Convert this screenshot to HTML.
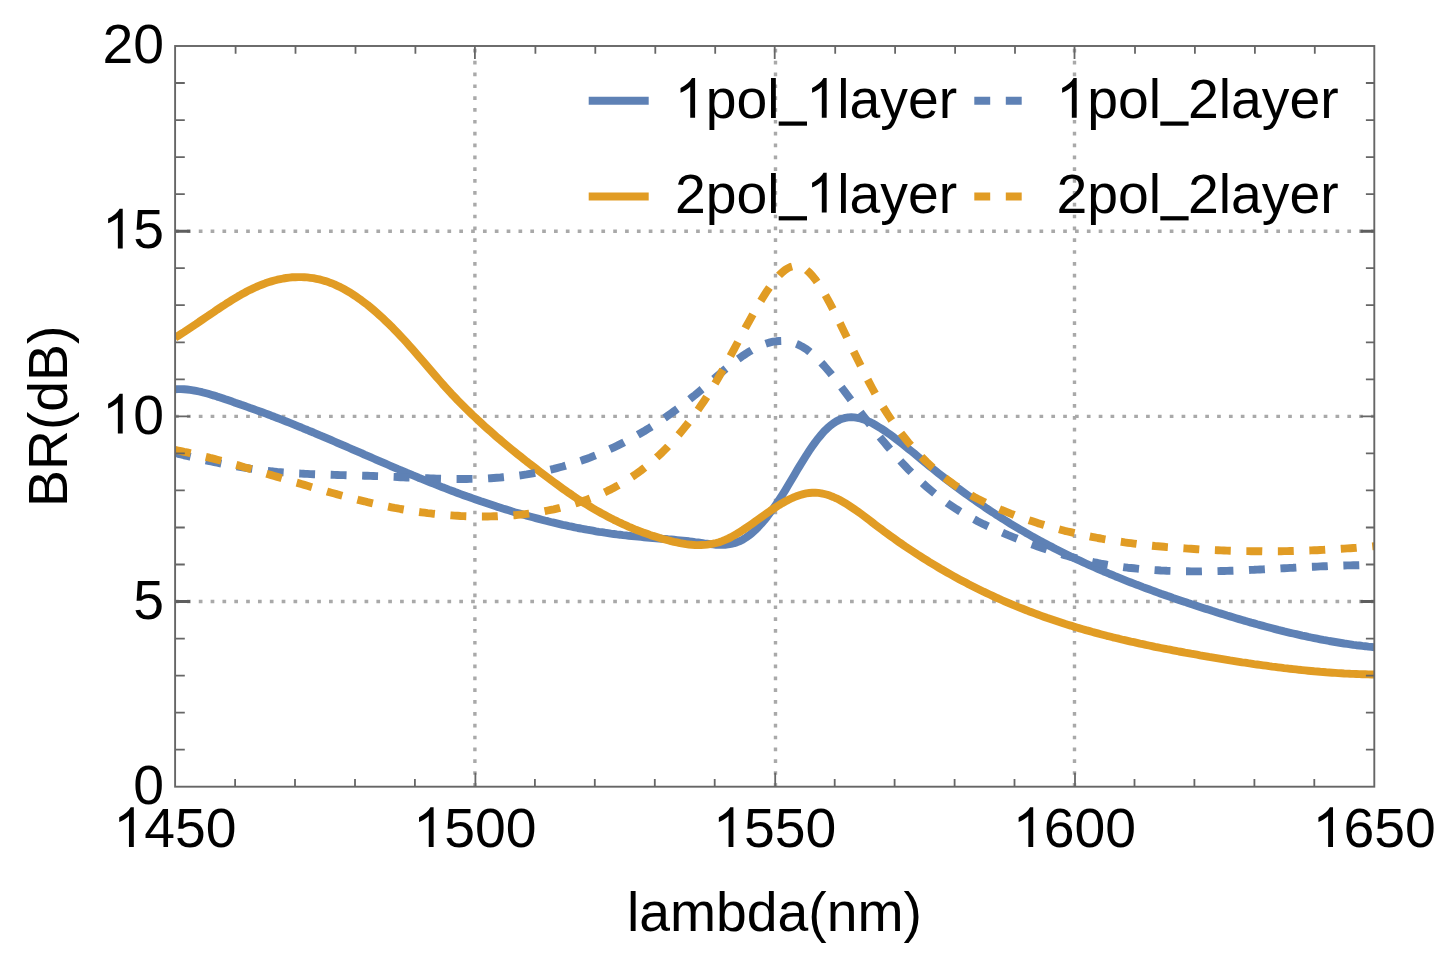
<!DOCTYPE html>
<html><head><meta charset="utf-8"><title>BR plot</title>
<style>html,body{margin:0;padding:0;background:#fff;}svg{display:block;filter:blur(0.45px);}text{font-family:"Liberation Sans",sans-serif;font-size:55.3px;fill:#000;}</style>
</head><body>
<svg width="1451" height="962" viewBox="0 0 1451 962">
<rect x="0" y="0" width="1451" height="962" fill="#fff"/>
<g stroke="#a9a9a9" stroke-width="3.4" stroke-dasharray="3.7 8.141" fill="none">
<line x1="474.9" y1="786.7" x2="474.9" y2="46.0"/>
<line x1="775.5" y1="786.7" x2="775.5" y2="46.0"/>
<line x1="1074.5" y1="786.7" x2="1074.5" y2="46.0"/>
<line x1="175.1" y1="601.5" x2="1374.3" y2="601.5"/>
<line x1="175.1" y1="416.4" x2="1374.3" y2="416.4"/>
<line x1="175.1" y1="231.2" x2="1374.3" y2="231.2"/>
</g>
<clipPath id="c"><rect x="175.1" y="46.0" width="1199.2" height="740.7"/></clipPath>
<g clip-path="url(#c)" fill="none" stroke-width="7.9" stroke-linejoin="round">
<path stroke="#5e81b5" d="M175.1,389.2 L178.1,389.1 L181.1,389.1 L184.1,389.3 L187.1,389.5 L190.1,389.9 L193.1,390.3 L196.1,390.9 L199.1,391.5 L202.1,392.2 L205.2,393.0 L208.2,393.8 L211.2,394.7 L214.2,395.6 L217.2,396.6 L220.2,397.5 L223.2,398.5 L226.2,399.6 L229.2,400.6 L232.2,401.6 L235.2,402.7 L238.2,403.7 L241.2,404.8 L244.2,405.8 L247.2,406.9 L250.2,408.0 L253.2,409.0 L256.2,410.1 L259.3,411.2 L262.3,412.3 L265.3,413.4 L268.3,414.5 L271.3,415.7 L274.3,416.8 L277.3,418.0 L280.3,419.1 L283.3,420.3 L286.3,421.5 L289.3,422.7 L292.3,423.9 L295.3,425.1 L298.3,426.3 L301.3,427.5 L304.3,428.8 L307.3,430.0 L310.3,431.3 L313.4,432.5 L316.4,433.8 L319.4,435.1 L322.4,436.3 L325.4,437.6 L328.4,438.9 L331.4,440.2 L334.4,441.5 L337.4,442.8 L340.4,444.1 L343.4,445.4 L346.4,446.7 L349.4,448.0 L352.4,449.3 L355.4,450.6 L358.4,451.9 L361.4,453.2 L364.4,454.6 L367.5,455.9 L370.5,457.2 L373.5,458.5 L376.5,459.8 L379.5,461.1 L382.5,462.4 L385.5,463.7 L388.5,465.0 L391.5,466.3 L394.5,467.6 L397.5,468.9 L400.5,470.1 L403.5,471.4 L406.5,472.7 L409.5,473.9 L412.5,475.2 L415.5,476.4 L418.5,477.7 L421.6,478.9 L424.6,480.1 L427.6,481.3 L430.6,482.5 L433.6,483.7 L436.6,484.9 L439.6,486.1 L442.6,487.3 L445.6,488.4 L448.6,489.6 L451.6,490.7 L454.6,491.8 L457.6,493.0 L460.6,494.1 L463.6,495.2 L466.6,496.3 L469.6,497.3 L472.6,498.4 L475.7,499.5 L478.7,500.5 L481.7,501.6 L484.7,502.6 L487.7,503.6 L490.7,504.6 L493.7,505.6 L496.7,506.6 L499.7,507.5 L502.7,508.5 L505.7,509.4 L508.7,510.3 L511.7,511.3 L514.7,512.2 L517.7,513.0 L520.7,513.9 L523.7,514.8 L526.7,515.6 L529.8,516.5 L532.8,517.3 L535.8,518.1 L538.8,518.9 L541.8,519.7 L544.8,520.5 L547.8,521.2 L550.8,522.0 L553.8,522.7 L556.8,523.4 L559.8,524.1 L562.8,524.8 L565.8,525.4 L568.8,526.1 L571.8,526.7 L574.8,527.4 L577.8,528.0 L580.8,528.5 L583.8,529.1 L586.9,529.7 L589.9,530.2 L592.9,530.7 L595.9,531.3 L598.9,531.8 L601.9,532.2 L604.9,532.7 L607.9,533.1 L610.9,533.6 L613.9,534.0 L616.9,534.4 L619.9,534.7 L622.9,535.1 L625.9,535.4 L628.9,535.8 L631.9,536.1 L634.9,536.4 L637.9,536.6 L641.0,536.9 L644.0,537.2 L647.0,537.5 L650.0,537.7 L653.0,538.0 L656.0,538.2 L659.0,538.5 L662.0,538.8 L665.0,539.0 L668.0,539.3 L671.0,539.5 L674.0,539.8 L677.0,540.1 L680.0,540.4 L683.0,540.7 L686.0,541.0 L689.0,541.3 L692.0,541.7 L695.1,542.1 L698.1,542.4 L701.1,542.8 L704.1,543.3 L707.1,543.7 L710.1,544.1 L713.1,544.4 L716.1,544.7 L719.1,544.8 L722.1,544.9 L725.1,544.7 L728.1,544.4 L731.1,543.9 L734.1,543.2 L737.1,542.2 L740.1,541.0 L743.1,539.4 L746.1,537.5 L749.2,535.3 L752.2,532.9 L755.2,530.1 L758.2,527.1 L761.2,523.9 L764.2,520.4 L767.2,516.7 L770.2,512.7 L773.2,508.6 L776.2,504.3 L779.2,499.8 L782.2,495.1 L785.2,490.3 L788.2,485.3 L791.2,480.3 L794.2,475.2 L797.2,470.1 L800.2,465.1 L803.3,460.2 L806.3,455.3 L809.3,450.7 L812.3,446.3 L815.3,442.1 L818.3,438.2 L821.3,434.6 L824.3,431.2 L827.3,428.3 L830.3,425.6 L833.3,423.3 L836.3,421.4 L839.3,419.9 L842.3,418.7 L845.3,417.9 L848.3,417.4 L851.3,417.3 L854.3,417.4 L857.4,417.8 L860.4,418.5 L863.4,419.4 L866.4,420.5 L869.4,421.8 L872.4,423.3 L875.4,425.0 L878.4,426.8 L881.4,428.6 L884.4,430.6 L887.4,432.7 L890.4,434.8 L893.4,437.0 L896.4,439.3 L899.4,441.6 L902.4,444.0 L905.4,446.4 L908.4,448.8 L911.5,451.3 L914.5,453.7 L917.5,456.2 L920.5,458.7 L923.5,461.2 L926.5,463.6 L929.5,466.1 L932.5,468.5 L935.5,470.9 L938.5,473.3 L941.5,475.7 L944.5,478.0 L947.5,480.3 L950.5,482.6 L953.5,484.9 L956.5,487.1 L959.5,489.3 L962.5,491.5 L965.6,493.7 L968.6,495.9 L971.6,498.0 L974.6,500.1 L977.6,502.2 L980.6,504.3 L983.6,506.3 L986.6,508.4 L989.6,510.4 L992.6,512.3 L995.6,514.3 L998.6,516.2 L1001.6,518.1 L1004.6,520.0 L1007.6,521.9 L1010.6,523.8 L1013.6,525.6 L1016.6,527.4 L1019.6,529.2 L1022.7,530.9 L1025.7,532.7 L1028.7,534.4 L1031.7,536.1 L1034.7,537.8 L1037.7,539.4 L1040.7,541.1 L1043.7,542.7 L1046.7,544.3 L1049.7,545.9 L1052.7,547.4 L1055.7,549.0 L1058.7,550.5 L1061.7,552.0 L1064.7,553.5 L1067.7,555.0 L1070.7,556.5 L1073.7,557.9 L1076.8,559.3 L1079.8,560.7 L1082.8,562.1 L1085.8,563.5 L1088.8,564.9 L1091.8,566.2 L1094.8,567.5 L1097.8,568.9 L1100.8,570.2 L1103.8,571.5 L1106.8,572.7 L1109.8,574.0 L1112.8,575.2 L1115.8,576.5 L1118.8,577.7 L1121.8,578.9 L1124.8,580.1 L1127.8,581.3 L1130.9,582.5 L1133.9,583.6 L1136.9,584.8 L1139.9,585.9 L1142.9,587.1 L1145.9,588.2 L1148.9,589.3 L1151.9,590.4 L1154.9,591.5 L1157.9,592.6 L1160.9,593.7 L1163.9,594.7 L1166.9,595.8 L1169.9,596.8 L1172.9,597.9 L1175.9,598.9 L1178.9,599.9 L1181.9,600.9 L1185.0,601.9 L1188.0,603.0 L1191.0,604.0 L1194.0,604.9 L1197.0,605.9 L1200.0,606.9 L1203.0,607.9 L1206.0,608.9 L1209.0,609.8 L1212.0,610.8 L1215.0,611.7 L1218.0,612.7 L1221.0,613.6 L1224.0,614.5 L1227.0,615.5 L1230.0,616.4 L1233.0,617.3 L1236.0,618.2 L1239.1,619.1 L1242.1,620.0 L1245.1,620.9 L1248.1,621.7 L1251.1,622.6 L1254.1,623.4 L1257.1,624.3 L1260.1,625.1 L1263.1,625.9 L1266.1,626.7 L1269.1,627.5 L1272.1,628.3 L1275.1,629.1 L1278.1,629.9 L1281.1,630.6 L1284.1,631.4 L1287.1,632.1 L1290.1,632.8 L1293.2,633.5 L1296.2,634.2 L1299.2,634.9 L1302.2,635.6 L1305.2,636.2 L1308.2,636.9 L1311.2,637.5 L1314.2,638.1 L1317.2,638.7 L1320.2,639.3 L1323.2,639.9 L1326.2,640.4 L1329.2,641.0 L1332.2,641.5 L1335.2,642.0 L1338.2,642.5 L1341.2,643.0 L1344.2,643.5 L1347.3,643.9 L1350.3,644.3 L1353.3,644.8 L1356.3,645.2 L1359.3,645.5 L1362.3,645.9 L1365.3,646.2 L1368.3,646.6 L1371.3,646.9 L1374.3,647.2"/>
<path stroke="#e19c24" d="M175.1,337.6 L178.1,335.8 L181.1,333.9 L184.1,332.0 L187.1,330.0 L190.1,328.0 L193.1,326.0 L196.1,324.0 L199.1,321.9 L202.1,319.9 L205.2,317.8 L208.2,315.8 L211.2,313.7 L214.2,311.7 L217.2,309.6 L220.2,307.6 L223.2,305.7 L226.2,303.7 L229.2,301.8 L232.2,299.9 L235.2,298.1 L238.2,296.3 L241.2,294.6 L244.2,293.0 L247.2,291.3 L250.2,289.8 L253.2,288.4 L256.2,287.0 L259.3,285.7 L262.3,284.5 L265.3,283.3 L268.3,282.3 L271.3,281.4 L274.3,280.5 L277.3,279.7 L280.3,279.1 L283.3,278.5 L286.3,278.0 L289.3,277.6 L292.3,277.3 L295.3,277.2 L298.3,277.1 L301.3,277.1 L304.3,277.2 L307.3,277.4 L310.3,277.8 L313.4,278.2 L316.4,278.8 L319.4,279.4 L322.4,280.2 L325.4,281.1 L328.4,282.1 L331.4,283.2 L334.4,284.4 L337.4,285.8 L340.4,287.2 L343.4,288.8 L346.4,290.5 L349.4,292.2 L352.4,294.1 L355.4,296.1 L358.4,298.2 L361.4,300.3 L364.4,302.6 L367.5,304.9 L370.5,307.4 L373.5,309.9 L376.5,312.5 L379.5,315.2 L382.5,317.9 L385.5,320.8 L388.5,323.7 L391.5,326.6 L394.5,329.7 L397.5,332.8 L400.5,335.9 L403.5,339.1 L406.5,342.4 L409.5,345.8 L412.5,349.2 L415.5,352.6 L418.5,356.1 L421.6,359.6 L424.6,363.1 L427.6,366.6 L430.6,370.1 L433.6,373.6 L436.6,377.1 L439.6,380.5 L442.6,384.0 L445.6,387.3 L448.6,390.6 L451.6,393.9 L454.6,397.0 L457.6,400.2 L460.6,403.2 L463.6,406.3 L466.6,409.3 L469.6,412.2 L472.6,415.1 L475.7,417.9 L478.7,420.8 L481.7,423.5 L484.7,426.3 L487.7,429.0 L490.7,431.6 L493.7,434.3 L496.7,436.9 L499.7,439.4 L502.7,442.0 L505.7,444.5 L508.7,447.0 L511.7,449.5 L514.7,451.9 L517.7,454.3 L520.7,456.7 L523.7,459.1 L526.7,461.5 L529.8,463.8 L532.8,466.2 L535.8,468.5 L538.8,470.8 L541.8,473.1 L544.8,475.4 L547.8,477.6 L550.8,479.9 L553.8,482.1 L556.8,484.3 L559.8,486.5 L562.8,488.7 L565.8,490.8 L568.8,492.9 L571.8,494.9 L574.8,497.0 L577.8,499.0 L580.8,500.9 L583.8,502.8 L586.9,504.7 L589.9,506.5 L592.9,508.3 L595.9,510.1 L598.9,511.8 L601.9,513.5 L604.9,515.1 L607.9,516.7 L610.9,518.3 L613.9,519.8 L616.9,521.2 L619.9,522.7 L622.9,524.1 L625.9,525.4 L628.9,526.8 L631.9,528.0 L634.9,529.3 L637.9,530.5 L641.0,531.6 L644.0,532.8 L647.0,533.8 L650.0,534.9 L653.0,535.9 L656.0,536.8 L659.0,537.8 L662.0,538.7 L665.0,539.5 L668.0,540.3 L671.0,541.1 L674.0,541.8 L677.0,542.4 L680.0,543.1 L683.0,543.6 L686.0,544.1 L689.0,544.5 L692.0,544.8 L695.1,545.0 L698.1,545.1 L701.1,545.0 L704.1,544.9 L707.1,544.6 L710.1,544.2 L713.1,543.7 L716.1,543.0 L719.1,542.2 L722.1,541.1 L725.1,539.9 L728.1,538.6 L731.1,537.1 L734.1,535.4 L737.1,533.7 L740.1,531.8 L743.1,529.9 L746.1,527.9 L749.2,525.8 L752.2,523.7 L755.2,521.6 L758.2,519.4 L761.2,517.3 L764.2,515.1 L767.2,513.0 L770.2,510.9 L773.2,508.9 L776.2,506.9 L779.2,505.0 L782.2,503.2 L785.2,501.5 L788.2,499.9 L791.2,498.5 L794.2,497.1 L797.2,496.0 L800.2,495.0 L803.3,494.1 L806.3,493.4 L809.3,493.0 L812.3,492.7 L815.3,492.7 L818.3,492.9 L821.3,493.3 L824.3,494.0 L827.3,494.8 L830.3,495.8 L833.3,497.0 L836.3,498.3 L839.3,499.8 L842.3,501.5 L845.3,503.2 L848.3,505.1 L851.3,507.1 L854.3,509.1 L857.4,511.2 L860.4,513.4 L863.4,515.6 L866.4,517.9 L869.4,520.2 L872.4,522.5 L875.4,524.8 L878.4,527.1 L881.4,529.3 L884.4,531.6 L887.4,533.8 L890.4,536.0 L893.4,538.1 L896.4,540.3 L899.4,542.4 L902.4,544.4 L905.4,546.5 L908.4,548.5 L911.5,550.5 L914.5,552.5 L917.5,554.5 L920.5,556.4 L923.5,558.3 L926.5,560.2 L929.5,562.1 L932.5,563.9 L935.5,565.7 L938.5,567.5 L941.5,569.3 L944.5,571.0 L947.5,572.7 L950.5,574.4 L953.5,576.1 L956.5,577.8 L959.5,579.4 L962.5,581.0 L965.6,582.6 L968.6,584.2 L971.6,585.7 L974.6,587.2 L977.6,588.7 L980.6,590.2 L983.6,591.7 L986.6,593.1 L989.6,594.5 L992.6,595.9 L995.6,597.3 L998.6,598.7 L1001.6,600.0 L1004.6,601.3 L1007.6,602.6 L1010.6,603.9 L1013.6,605.2 L1016.6,606.4 L1019.6,607.6 L1022.7,608.8 L1025.7,610.0 L1028.7,611.2 L1031.7,612.3 L1034.7,613.4 L1037.7,614.5 L1040.7,615.6 L1043.7,616.7 L1046.7,617.8 L1049.7,618.8 L1052.7,619.8 L1055.7,620.8 L1058.7,621.8 L1061.7,622.8 L1064.7,623.8 L1067.7,624.7 L1070.7,625.6 L1073.7,626.6 L1076.8,627.5 L1079.8,628.4 L1082.8,629.2 L1085.8,630.1 L1088.8,630.9 L1091.8,631.8 L1094.8,632.6 L1097.8,633.4 L1100.8,634.2 L1103.8,635.0 L1106.8,635.8 L1109.8,636.5 L1112.8,637.3 L1115.8,638.0 L1118.8,638.7 L1121.8,639.5 L1124.8,640.2 L1127.8,640.9 L1130.9,641.6 L1133.9,642.2 L1136.9,642.9 L1139.9,643.6 L1142.9,644.2 L1145.9,644.9 L1148.9,645.5 L1151.9,646.1 L1154.9,646.8 L1157.9,647.4 L1160.9,648.0 L1163.9,648.6 L1166.9,649.2 L1169.9,649.7 L1172.9,650.3 L1175.9,650.9 L1178.9,651.5 L1181.9,652.0 L1185.0,652.6 L1188.0,653.1 L1191.0,653.7 L1194.0,654.2 L1197.0,654.7 L1200.0,655.3 L1203.0,655.8 L1206.0,656.3 L1209.0,656.9 L1212.0,657.4 L1215.0,657.9 L1218.0,658.4 L1221.0,658.9 L1224.0,659.4 L1227.0,659.9 L1230.0,660.4 L1233.0,660.8 L1236.0,661.3 L1239.1,661.8 L1242.1,662.3 L1245.1,662.7 L1248.1,663.2 L1251.1,663.6 L1254.1,664.1 L1257.1,664.5 L1260.1,664.9 L1263.1,665.3 L1266.1,665.7 L1269.1,666.2 L1272.1,666.6 L1275.1,666.9 L1278.1,667.3 L1281.1,667.7 L1284.1,668.1 L1287.1,668.4 L1290.1,668.8 L1293.2,669.1 L1296.2,669.4 L1299.2,669.8 L1302.2,670.1 L1305.2,670.4 L1308.2,670.7 L1311.2,671.0 L1314.2,671.3 L1317.2,671.5 L1320.2,671.8 L1323.2,672.0 L1326.2,672.3 L1329.2,672.5 L1332.2,672.7 L1335.2,672.9 L1338.2,673.1 L1341.2,673.3 L1344.2,673.5 L1347.3,673.6 L1350.3,673.8 L1353.3,673.9 L1356.3,674.0 L1359.3,674.1 L1362.3,674.3 L1365.3,674.3 L1368.3,674.4 L1371.3,674.5 L1374.3,674.5"/>
<path stroke="#5e81b5" stroke-dasharray="15.9 15.6" d="M175.1,453.0 L178.1,453.8 L181.1,454.5 L184.1,455.3 L187.1,456.0 L190.1,456.7 L193.1,457.4 L196.1,458.1 L199.1,458.8 L202.1,459.5 L205.2,460.2 L208.2,460.8 L211.2,461.5 L214.2,462.1 L217.2,462.7 L220.2,463.3 L223.2,463.9 L226.2,464.5 L229.2,465.0 L232.2,465.6 L235.2,466.1 L238.2,466.6 L241.2,467.1 L244.2,467.6 L247.2,468.1 L250.2,468.6 L253.2,469.0 L256.2,469.4 L259.3,469.8 L262.3,470.2 L265.3,470.6 L268.3,470.9 L271.3,471.3 L274.3,471.6 L277.3,471.9 L280.3,472.1 L283.3,472.4 L286.3,472.6 L289.3,472.9 L292.3,473.1 L295.3,473.3 L298.3,473.5 L301.3,473.6 L304.3,473.8 L307.3,473.9 L310.3,474.1 L313.4,474.2 L316.4,474.3 L319.4,474.4 L322.4,474.5 L325.4,474.6 L328.4,474.7 L331.4,474.8 L334.4,474.9 L337.4,475.0 L340.4,475.1 L343.4,475.1 L346.4,475.2 L349.4,475.3 L352.4,475.4 L355.4,475.4 L358.4,475.5 L361.4,475.6 L364.4,475.7 L367.5,475.8 L370.5,475.9 L373.5,476.0 L376.5,476.1 L379.5,476.2 L382.5,476.4 L385.5,476.5 L388.5,476.6 L391.5,476.8 L394.5,476.9 L397.5,477.0 L400.5,477.2 L403.5,477.3 L406.5,477.5 L409.5,477.6 L412.5,477.7 L415.5,477.9 L418.5,478.0 L421.6,478.1 L424.6,478.2 L427.6,478.3 L430.6,478.4 L433.6,478.5 L436.6,478.6 L439.6,478.7 L442.6,478.8 L445.6,478.9 L448.6,478.9 L451.6,479.0 L454.6,479.0 L457.6,479.0 L460.6,479.0 L463.6,479.0 L466.6,479.0 L469.6,478.9 L472.6,478.9 L475.7,478.8 L478.7,478.7 L481.7,478.6 L484.7,478.5 L487.7,478.4 L490.7,478.2 L493.7,478.0 L496.7,477.8 L499.7,477.6 L502.7,477.3 L505.7,477.0 L508.7,476.7 L511.7,476.4 L514.7,476.1 L517.7,475.7 L520.7,475.3 L523.7,474.8 L526.7,474.4 L529.8,473.9 L532.8,473.4 L535.8,472.8 L538.8,472.2 L541.8,471.6 L544.8,471.0 L547.8,470.3 L550.8,469.6 L553.8,468.9 L556.8,468.1 L559.8,467.3 L562.8,466.5 L565.8,465.6 L568.8,464.8 L571.8,463.8 L574.8,462.9 L577.8,461.9 L580.8,460.9 L583.8,459.8 L586.9,458.7 L589.9,457.6 L592.9,456.4 L595.9,455.2 L598.9,454.0 L601.9,452.7 L604.9,451.4 L607.9,450.1 L610.9,448.7 L613.9,447.3 L616.9,445.9 L619.9,444.4 L622.9,442.9 L625.9,441.3 L628.9,439.8 L631.9,438.1 L634.9,436.5 L637.9,434.8 L641.0,433.0 L644.0,431.3 L647.0,429.4 L650.0,427.6 L653.0,425.7 L656.0,423.8 L659.0,421.8 L662.0,419.8 L665.0,417.7 L668.0,415.6 L671.0,413.5 L674.0,411.3 L677.0,409.1 L680.0,406.9 L683.0,404.6 L686.0,402.2 L689.0,399.8 L692.0,397.4 L695.1,395.0 L698.1,392.5 L701.1,389.9 L704.1,387.4 L707.1,384.8 L710.1,382.2 L713.1,379.6 L716.1,377.0 L719.1,374.4 L722.1,371.9 L725.1,369.3 L728.1,366.9 L731.1,364.5 L734.1,362.1 L737.1,359.9 L740.1,357.7 L743.1,355.6 L746.1,353.6 L749.2,351.7 L752.2,349.9 L755.2,348.3 L758.2,346.8 L761.2,345.5 L764.2,344.3 L767.2,343.3 L770.2,342.4 L773.2,341.7 L776.2,341.3 L779.2,341.0 L782.2,340.9 L785.2,341.1 L788.2,341.5 L791.2,342.1 L794.2,343.0 L797.2,344.2 L800.2,345.6 L803.3,347.3 L806.3,349.2 L809.3,351.5 L812.3,354.0 L815.3,356.7 L818.3,359.6 L821.3,362.7 L824.3,366.0 L827.3,369.5 L830.3,373.0 L833.3,376.7 L836.3,380.5 L839.3,384.4 L842.3,388.3 L845.3,392.3 L848.3,396.3 L851.3,400.3 L854.3,404.3 L857.4,408.2 L860.4,412.2 L863.4,416.1 L866.4,420.0 L869.4,423.9 L872.4,427.7 L875.4,431.5 L878.4,435.2 L881.4,438.9 L884.4,442.5 L887.4,446.1 L890.4,449.6 L893.4,453.1 L896.4,456.5 L899.4,459.8 L902.4,463.1 L905.4,466.3 L908.4,469.4 L911.5,472.5 L914.5,475.5 L917.5,478.4 L920.5,481.2 L923.5,484.0 L926.5,486.7 L929.5,489.3 L932.5,491.8 L935.5,494.2 L938.5,496.6 L941.5,498.8 L944.5,501.0 L947.5,503.2 L950.5,505.2 L953.5,507.2 L956.5,509.2 L959.5,511.1 L962.5,512.9 L965.6,514.6 L968.6,516.3 L971.6,518.0 L974.6,519.6 L977.6,521.2 L980.6,522.7 L983.6,524.2 L986.6,525.6 L989.6,527.0 L992.6,528.4 L995.6,529.7 L998.6,531.0 L1001.6,532.3 L1004.6,533.6 L1007.6,534.9 L1010.6,536.1 L1013.6,537.3 L1016.6,538.5 L1019.6,539.7 L1022.7,540.9 L1025.7,542.0 L1028.7,543.2 L1031.7,544.3 L1034.7,545.4 L1037.7,546.5 L1040.7,547.5 L1043.7,548.6 L1046.7,549.6 L1049.7,550.6 L1052.7,551.6 L1055.7,552.5 L1058.7,553.4 L1061.7,554.3 L1064.7,555.2 L1067.7,556.0 L1070.7,556.9 L1073.7,557.6 L1076.8,558.4 L1079.8,559.1 L1082.8,559.9 L1085.8,560.5 L1088.8,561.2 L1091.8,561.8 L1094.8,562.5 L1097.8,563.0 L1100.8,563.6 L1103.8,564.1 L1106.8,564.7 L1109.8,565.2 L1112.8,565.6 L1115.8,566.1 L1118.8,566.5 L1121.8,566.9 L1124.8,567.3 L1127.8,567.7 L1130.9,568.0 L1133.9,568.3 L1136.9,568.6 L1139.9,568.9 L1142.9,569.2 L1145.9,569.5 L1148.9,569.7 L1151.9,569.9 L1154.9,570.1 L1157.9,570.3 L1160.9,570.5 L1163.9,570.6 L1166.9,570.8 L1169.9,570.9 L1172.9,571.0 L1175.9,571.1 L1178.9,571.2 L1181.9,571.2 L1185.0,571.3 L1188.0,571.3 L1191.0,571.4 L1194.0,571.4 L1197.0,571.4 L1200.0,571.4 L1203.0,571.3 L1206.0,571.3 L1209.0,571.3 L1212.0,571.2 L1215.0,571.2 L1218.0,571.1 L1221.0,571.0 L1224.0,571.0 L1227.0,570.9 L1230.0,570.8 L1233.0,570.7 L1236.0,570.6 L1239.1,570.5 L1242.1,570.3 L1245.1,570.2 L1248.1,570.1 L1251.1,569.9 L1254.1,569.8 L1257.1,569.6 L1260.1,569.5 L1263.1,569.4 L1266.1,569.2 L1269.1,569.0 L1272.1,568.9 L1275.1,568.7 L1278.1,568.6 L1281.1,568.4 L1284.1,568.2 L1287.1,568.1 L1290.1,567.9 L1293.2,567.8 L1296.2,567.6 L1299.2,567.4 L1302.2,567.3 L1305.2,567.1 L1308.2,567.0 L1311.2,566.8 L1314.2,566.7 L1317.2,566.6 L1320.2,566.4 L1323.2,566.3 L1326.2,566.2 L1329.2,566.0 L1332.2,565.9 L1335.2,565.8 L1338.2,565.7 L1341.2,565.6 L1344.2,565.5 L1347.3,565.4 L1350.3,565.4 L1353.3,565.3 L1356.3,565.3 L1359.3,565.2 L1362.3,565.2 L1365.3,565.1 L1368.3,565.1 L1371.3,565.1 L1374.3,565.1"/>
<path stroke="#e19c24" stroke-dasharray="15.9 15.6" d="M175.1,449.9 L178.1,450.5 L181.1,451.1 L184.1,451.8 L187.1,452.4 L190.1,453.1 L193.1,453.8 L196.1,454.5 L199.1,455.2 L202.1,455.9 L205.2,456.7 L208.2,457.4 L211.2,458.2 L214.2,458.9 L217.2,459.7 L220.2,460.5 L223.2,461.3 L226.2,462.1 L229.2,462.9 L232.2,463.8 L235.2,464.6 L238.2,465.4 L241.2,466.3 L244.2,467.2 L247.2,468.0 L250.2,468.9 L253.2,469.8 L256.2,470.6 L259.3,471.5 L262.3,472.4 L265.3,473.3 L268.3,474.2 L271.3,475.1 L274.3,476.0 L277.3,476.9 L280.3,477.8 L283.3,478.7 L286.3,479.6 L289.3,480.5 L292.3,481.4 L295.3,482.3 L298.3,483.1 L301.3,484.0 L304.3,484.9 L307.3,485.8 L310.3,486.7 L313.4,487.6 L316.4,488.4 L319.4,489.3 L322.4,490.2 L325.4,491.0 L328.4,491.9 L331.4,492.7 L334.4,493.5 L337.4,494.4 L340.4,495.2 L343.4,496.0 L346.4,496.8 L349.4,497.6 L352.4,498.3 L355.4,499.1 L358.4,499.9 L361.4,500.6 L364.4,501.3 L367.5,502.1 L370.5,502.8 L373.5,503.5 L376.5,504.1 L379.5,504.8 L382.5,505.4 L385.5,506.1 L388.5,506.7 L391.5,507.3 L394.5,507.9 L397.5,508.4 L400.5,509.0 L403.5,509.5 L406.5,510.0 L409.5,510.5 L412.5,511.0 L415.5,511.4 L418.5,511.9 L421.6,512.3 L424.6,512.7 L427.6,513.1 L430.6,513.4 L433.6,513.8 L436.6,514.1 L439.6,514.4 L442.6,514.7 L445.6,514.9 L448.6,515.2 L451.6,515.4 L454.6,515.6 L457.6,515.8 L460.6,516.0 L463.6,516.1 L466.6,516.2 L469.6,516.3 L472.6,516.4 L475.7,516.5 L478.7,516.5 L481.7,516.5 L484.7,516.5 L487.7,516.5 L490.7,516.4 L493.7,516.3 L496.7,516.3 L499.7,516.1 L502.7,516.0 L505.7,515.8 L508.7,515.6 L511.7,515.4 L514.7,515.2 L517.7,514.9 L520.7,514.6 L523.7,514.3 L526.7,513.9 L529.8,513.5 L532.8,513.1 L535.8,512.7 L538.8,512.2 L541.8,511.7 L544.8,511.1 L547.8,510.5 L550.8,509.9 L553.8,509.3 L556.8,508.6 L559.8,507.9 L562.8,507.1 L565.8,506.3 L568.8,505.5 L571.8,504.6 L574.8,503.7 L577.8,502.7 L580.8,501.8 L583.8,500.7 L586.9,499.6 L589.9,498.5 L592.9,497.4 L595.9,496.1 L598.9,494.9 L601.9,493.6 L604.9,492.2 L607.9,490.7 L610.9,489.3 L613.9,487.7 L616.9,486.1 L619.9,484.4 L622.9,482.6 L625.9,480.8 L628.9,478.9 L631.9,476.9 L634.9,474.9 L637.9,472.7 L641.0,470.5 L644.0,468.2 L647.0,465.8 L650.0,463.3 L653.0,460.8 L656.0,458.1 L659.0,455.3 L662.0,452.5 L665.0,449.5 L668.0,446.5 L671.0,443.3 L674.0,440.0 L677.0,436.6 L680.0,433.1 L683.0,429.5 L686.0,425.8 L689.0,421.9 L692.0,418.0 L695.1,413.9 L698.1,409.7 L701.1,405.3 L704.1,400.9 L707.1,396.3 L710.1,391.5 L713.1,386.7 L716.1,381.7 L719.1,376.5 L722.1,371.2 L725.1,365.8 L728.1,360.3 L731.1,354.7 L734.1,349.1 L737.1,343.5 L740.1,337.8 L743.1,332.2 L746.1,326.6 L749.2,321.1 L752.2,315.7 L755.2,310.3 L758.2,305.2 L761.2,300.2 L764.2,295.4 L767.2,290.7 L770.2,286.4 L773.2,282.3 L776.2,278.6 L779.2,275.2 L782.2,272.3 L785.2,269.9 L788.2,268.0 L791.2,266.7 L794.2,265.9 L797.2,265.9 L800.2,266.5 L803.3,267.9 L806.3,269.8 L809.3,272.5 L812.3,275.7 L815.3,279.4 L818.3,283.6 L821.3,288.3 L824.3,293.3 L827.3,298.6 L830.3,304.2 L833.3,309.9 L836.3,315.8 L839.3,321.8 L842.3,327.9 L845.3,334.1 L848.3,340.3 L851.3,346.6 L854.3,352.8 L857.4,359.0 L860.4,365.1 L863.4,371.2 L866.4,377.1 L869.4,382.9 L872.4,388.5 L875.4,394.0 L878.4,399.2 L881.4,404.3 L884.4,409.1 L887.4,413.9 L890.4,418.4 L893.4,422.8 L896.4,427.0 L899.4,431.1 L902.4,435.0 L905.4,438.8 L908.4,442.5 L911.5,446.0 L914.5,449.4 L917.5,452.7 L920.5,455.9 L923.5,458.9 L926.5,461.9 L929.5,464.7 L932.5,467.5 L935.5,470.1 L938.5,472.7 L941.5,475.1 L944.5,477.5 L947.5,479.8 L950.5,482.0 L953.5,484.2 L956.5,486.2 L959.5,488.2 L962.5,490.1 L965.6,492.0 L968.6,493.8 L971.6,495.5 L974.6,497.2 L977.6,498.8 L980.6,500.3 L983.6,501.8 L986.6,503.3 L989.6,504.7 L992.6,506.1 L995.6,507.4 L998.6,508.7 L1001.6,510.0 L1004.6,511.2 L1007.6,512.4 L1010.6,513.6 L1013.6,514.7 L1016.6,515.9 L1019.6,517.0 L1022.7,518.0 L1025.7,519.1 L1028.7,520.1 L1031.7,521.1 L1034.7,522.1 L1037.7,523.1 L1040.7,524.0 L1043.7,524.9 L1046.7,525.8 L1049.7,526.7 L1052.7,527.6 L1055.7,528.4 L1058.7,529.2 L1061.7,530.0 L1064.7,530.8 L1067.7,531.5 L1070.7,532.2 L1073.7,532.9 L1076.8,533.6 L1079.8,534.3 L1082.8,535.0 L1085.8,535.6 L1088.8,536.2 L1091.8,536.8 L1094.8,537.4 L1097.8,538.0 L1100.8,538.5 L1103.8,539.1 L1106.8,539.6 L1109.8,540.1 L1112.8,540.6 L1115.8,541.0 L1118.8,541.5 L1121.8,541.9 L1124.8,542.4 L1127.8,542.8 L1130.9,543.2 L1133.9,543.6 L1136.9,544.0 L1139.9,544.3 L1142.9,544.7 L1145.9,545.0 L1148.9,545.3 L1151.9,545.7 L1154.9,546.0 L1157.9,546.2 L1160.9,546.5 L1163.9,546.8 L1166.9,547.1 L1169.9,547.3 L1172.9,547.6 L1175.9,547.8 L1178.9,548.0 L1181.9,548.2 L1185.0,548.4 L1188.0,548.6 L1191.0,548.8 L1194.0,549.0 L1197.0,549.2 L1200.0,549.4 L1203.0,549.5 L1206.0,549.7 L1209.0,549.8 L1212.0,550.0 L1215.0,550.1 L1218.0,550.2 L1221.0,550.4 L1224.0,550.5 L1227.0,550.6 L1230.0,550.7 L1233.0,550.8 L1236.0,550.9 L1239.1,550.9 L1242.1,551.0 L1245.1,551.1 L1248.1,551.1 L1251.1,551.2 L1254.1,551.2 L1257.1,551.2 L1260.1,551.2 L1263.1,551.3 L1266.1,551.3 L1269.1,551.3 L1272.1,551.2 L1275.1,551.2 L1278.1,551.2 L1281.1,551.2 L1284.1,551.1 L1287.1,551.1 L1290.1,551.0 L1293.2,551.0 L1296.2,550.9 L1299.2,550.8 L1302.2,550.7 L1305.2,550.6 L1308.2,550.5 L1311.2,550.4 L1314.2,550.3 L1317.2,550.2 L1320.2,550.0 L1323.2,549.9 L1326.2,549.7 L1329.2,549.6 L1332.2,549.4 L1335.2,549.2 L1338.2,549.0 L1341.2,548.8 L1344.2,548.6 L1347.3,548.4 L1350.3,548.2 L1353.3,548.0 L1356.3,547.8 L1359.3,547.5 L1362.3,547.3 L1365.3,547.0 L1368.3,546.7 L1371.3,546.5 L1374.3,546.2"/>
</g>
<g stroke="#666666" fill="none">
<path stroke="#5e5e5e" stroke-width="3.0" d="M175.1,601.5h15M1374.3,601.5h-13.8"/>
<path stroke="#5e5e5e" stroke-width="3.0" d="M175.1,231.2h15M1374.3,231.2h-13.8"/>
<path stroke-width="1.8" d="M235.1,786.7v-7.6M235.6,46.0v7.8M295.0,786.7v-7.6M295.5,46.0v7.8M355.0,786.7v-7.6M355.5,46.0v7.8M414.9,786.7v-7.6M415.4,46.0v7.8M534.9,786.7v-7.6M535.4,46.0v7.8M594.8,786.7v-7.6M595.3,46.0v7.8M654.8,786.7v-7.6M655.3,46.0v7.8M714.7,786.7v-7.6M715.2,46.0v7.8M834.7,786.7v-7.6M835.2,46.0v7.8M894.6,786.7v-7.6M895.1,46.0v7.8M954.6,786.7v-7.6M955.1,46.0v7.8M1014.5,786.7v-7.6M1015.0,46.0v7.8M1134.5,786.7v-7.6M1135.0,46.0v7.8M1194.4,786.7v-7.6M1194.9,46.0v7.8M1254.4,786.7v-7.6M1254.9,46.0v7.8M1314.3,786.7v-7.6M1314.8,46.0v7.8M175.1,749.7h9.7M1374.3,749.7h-8.4M175.1,712.6h9.7M1374.3,712.6h-8.4M175.1,675.6h9.7M1374.3,675.6h-8.4M175.1,638.6h9.7M1374.3,638.6h-8.4M175.1,564.5h9.7M1374.3,564.5h-8.4M175.1,527.5h9.7M1374.3,527.5h-8.4M175.1,490.4h9.7M1374.3,490.4h-8.4M175.1,453.4h9.7M1374.3,453.4h-8.4M175.1,416.4h15M1374.3,416.4h-13.8M175.1,379.3h9.7M1374.3,379.3h-8.4M175.1,342.3h9.7M1374.3,342.3h-8.4M175.1,305.2h9.7M1374.3,305.2h-8.4M175.1,268.2h9.7M1374.3,268.2h-8.4M175.1,194.1h9.7M1374.3,194.1h-8.4M175.1,157.1h9.7M1374.3,157.1h-8.4M175.1,120.1h9.7M1374.3,120.1h-8.4M175.1,83.0h9.7M1374.3,83.0h-8.4"/>
<path stroke-width="1.8" d="M475.4,786.7v-14M474.9,46.0v13M775.2,786.7v-14M774.7,46.0v13M1075.0,786.7v-14M1074.5,46.0v13"/>
<rect x="175.1" y="46.0" width="1199.2" height="740.7" stroke-width="1.9"/>
</g>
<text x="133.25" y="803.90">0</text>
<text x="133.25" y="618.73">5</text>
<path d="M763 0L583 0L583 1147Q518 1085 412.5 1023Q307 961 223 930L223 1104Q374 1175 487 1276Q600 1377 647 1472L763 1472Z" transform="translate(102.11,433.55) scale(0.02700,-0.02700)" fill="#000"/>
<text x="133.25" y="433.55">0</text>
<path d="M763 0L583 0L583 1147Q518 1085 412.5 1023Q307 961 223 930L223 1104Q374 1175 487 1276Q600 1377 647 1472L763 1472Z" transform="translate(102.11,248.38) scale(0.02700,-0.02700)" fill="#000"/>
<text x="133.25" y="248.38">5</text>
<text x="102.51" y="63.20">20</text>
<path d="M763 0L583 0L583 1147Q518 1085 412.5 1023Q307 961 223 930L223 1104Q374 1175 487 1276Q600 1377 647 1472L763 1472Z" transform="translate(113.21,847.00) scale(0.02700,-0.02700)" fill="#000"/>
<text x="144.35" y="847.00">450</text>
<path d="M763 0L583 0L583 1147Q518 1085 412.5 1023Q307 961 223 930L223 1104Q374 1175 487 1276Q600 1377 647 1472L763 1472Z" transform="translate(413.01,847.00) scale(0.02700,-0.02700)" fill="#000"/>
<text x="444.15" y="847.00">500</text>
<path d="M763 0L583 0L583 1147Q518 1085 412.5 1023Q307 961 223 930L223 1104Q374 1175 487 1276Q600 1377 647 1472L763 1472Z" transform="translate(712.81,847.00) scale(0.02700,-0.02700)" fill="#000"/>
<text x="743.95" y="847.00">550</text>
<path d="M763 0L583 0L583 1147Q518 1085 412.5 1023Q307 961 223 930L223 1104Q374 1175 487 1276Q600 1377 647 1472L763 1472Z" transform="translate(1012.61,847.00) scale(0.02700,-0.02700)" fill="#000"/>
<text x="1043.75" y="847.00">600</text>
<path d="M763 0L583 0L583 1147Q518 1085 412.5 1023Q307 961 223 930L223 1104Q374 1175 487 1276Q600 1377 647 1472L763 1472Z" transform="translate(1312.41,847.00) scale(0.02700,-0.02700)" fill="#000"/>
<text x="1343.55" y="847.00">650</text>
<text x="774.5" y="930.7" text-anchor="middle">lambda(nm)</text>
<text transform="translate(66.6,416.3) rotate(-90)" text-anchor="middle">BR(dB)</text>
<g fill="none" stroke-width="8">
<path stroke="#5e81b5" d="M588.7,100.8h60"/>
<path stroke="#e19c24" d="M588.7,196.5h60"/>
<path stroke="#5e81b5" stroke-dasharray="15.9 15.6" d="M974.3,100.8h60"/>
<path stroke="#e19c24" stroke-dasharray="15.9 15.6" d="M974.3,196.5h60"/>
</g>
<path d="M763 0L583 0L583 1147Q518 1085 412.5 1023Q307 961 223 930L223 1104Q374 1175 487 1276Q600 1377 647 1472L763 1472Z" transform="translate(674.50,117.80) scale(0.02700,-0.02700)" fill="#000"/>
<text x="705.65" y="117.8">pol</text>
<rect x="778.7" y="121.5" width="28.3" height="4.2" fill="#000"/>
<path d="M763 0L583 0L583 1147Q518 1085 412.5 1023Q307 961 223 930L223 1104Q374 1175 487 1276Q600 1377 647 1472L763 1472Z" transform="translate(806.06,117.80) scale(0.02700,-0.02700)" fill="#000"/>
<text x="837.21" y="117.8">layer</text>
<text x="674.90" y="212.5">2pol</text>
<rect x="778.7" y="216.2" width="28.3" height="4.2" fill="#000"/>
<path d="M763 0L583 0L583 1147Q518 1085 412.5 1023Q307 961 223 930L223 1104Q374 1175 487 1276Q600 1377 647 1472L763 1472Z" transform="translate(806.06,212.50) scale(0.02700,-0.02700)" fill="#000"/>
<text x="837.21" y="212.5">layer</text>
<path d="M763 0L583 0L583 1147Q518 1085 412.5 1023Q307 961 223 930L223 1104Q374 1175 487 1276Q600 1377 647 1472L763 1472Z" transform="translate(1056.10,117.80) scale(0.02700,-0.02700)" fill="#000"/>
<text x="1087.25" y="117.8">pol</text>
<rect x="1160.3" y="121.5" width="28.3" height="4.2" fill="#000"/>
<text x="1188.06" y="117.8">2layer</text>
<text x="1056.50" y="212.5">2pol</text>
<rect x="1160.3" y="216.2" width="28.3" height="4.2" fill="#000"/>
<text x="1188.06" y="212.5">2layer</text>
</svg></body></html>
